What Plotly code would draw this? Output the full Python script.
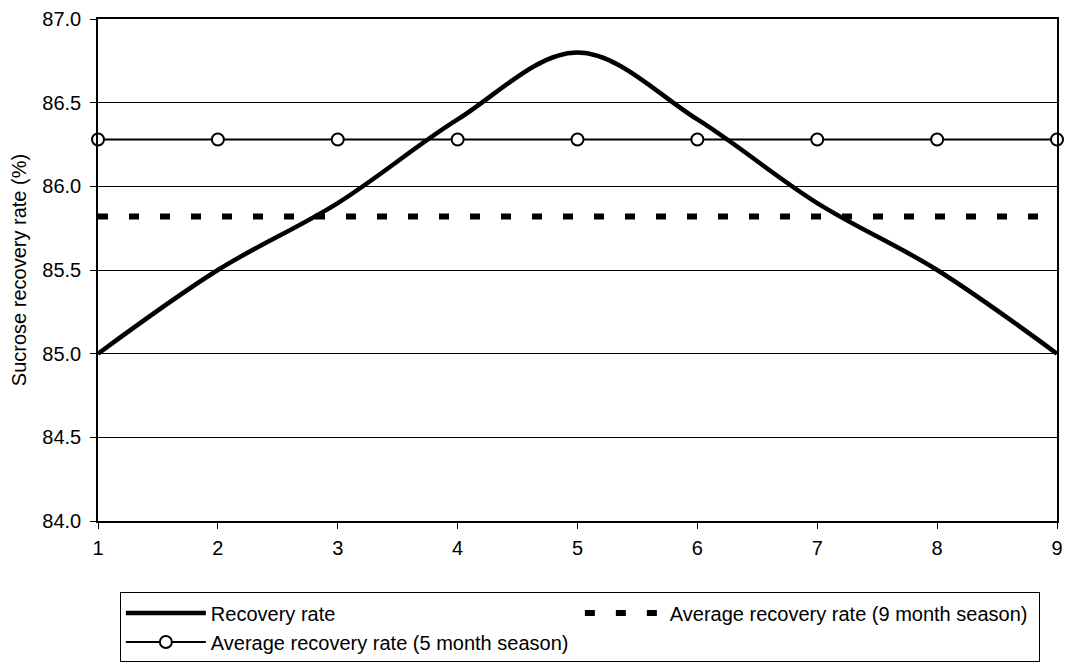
import plotly.graph_objects as go

months = [1, 2, 3, 4, 5, 6, 7, 8, 9]
recovery_rate = [85.0, 85.5, 85.9, 86.4, 86.8, 86.4, 85.9, 85.5, 85.0]
avg_9_month = [85.82] * 9
avg_5_month = [86.28] * 9
y_ticks = [84.0, 84.5, 85.0, 85.5, 86.0, 86.5, 87.0]
x_ticks = [1, 2, 3, 4, 5, 6, 7, 8, 9]

FONT = "Liberation Sans, Arial, sans-serif"

fig = go.Figure()
fig.add_trace(go.Scatter(
    x=months, y=recovery_rate, name="Recovery rate", mode="lines",
    line=dict(color="black", width=4.5, shape="spline", smoothing=1.0),
    cliponaxis=False,
))
fig.add_trace(go.Scatter(
    x=months, y=avg_9_month, name="Average recovery rate (9 month season)", mode="lines",
    line=dict(color="black", width=6, dash="10px,21px"),
    cliponaxis=False,
))
fig.add_trace(go.Scatter(
    x=months, y=avg_5_month, name="Average recovery rate (5 month season)", mode="lines+markers",
    line=dict(color="black", width=2),
    marker=dict(symbol="circle", size=12, color="white", line=dict(color="black", width=2)),
    cliponaxis=False,
))

W, H = 1069, 668
ml, mr, mt, mb = 98, 6, 19, 136
pw = W - ml - mr
ph = H - mt - mb

fig.update_layout(
    width=W, height=H,
    margin=dict(l=ml, r=mr, t=mt, b=mb, pad=0),
    paper_bgcolor="white", plot_bgcolor="white",
    font=dict(family=FONT, size=20, color="black"),
    showlegend=True,
    legend=dict(
        orientation="h",
        x=(120 - ml) / pw, xanchor="left",
        y=(mt + ph - 605) / ph, yanchor="top",
        bordercolor="black", borderwidth=1,
        bgcolor="white",
        itemwidth=80,
        entrywidth=364, entrywidthmode="pixels",
        font=dict(family=FONT, size=20, color="black"),
        traceorder="normal",
    ),
    xaxis=dict(
        range=[1, 9], tickvals=x_ticks, ticktext=[str(v) for v in x_ticks],
        showgrid=False, zeroline=False,
        showline=True, linecolor="black", linewidth=1.5, mirror=True,
        ticks="outside", ticklen=6, tickcolor="black", tickwidth=1,
        tickfont=dict(family=FONT, size=20, color="black"),
        ticklabelstandoff=2,
    ),
    yaxis=dict(
        range=[84, 87], tickvals=y_ticks, ticktext=[f"{v:.1f}" for v in y_ticks],
        showgrid=True, gridcolor="black", gridwidth=1, zeroline=False,
        showline=True, linecolor="black", linewidth=1.5, mirror=True,
        ticks="outside", ticklen=6, tickcolor="black", tickwidth=1,
        tickfont=dict(family=FONT, size=20, color="black"),
        ticklabelstandoff=5,
        title=dict(text="Sucrose recovery rate (%)", standoff=10,
                   font=dict(family=FONT, size=20, color="black")),
    ),
)

fig.write_html("out.html")
